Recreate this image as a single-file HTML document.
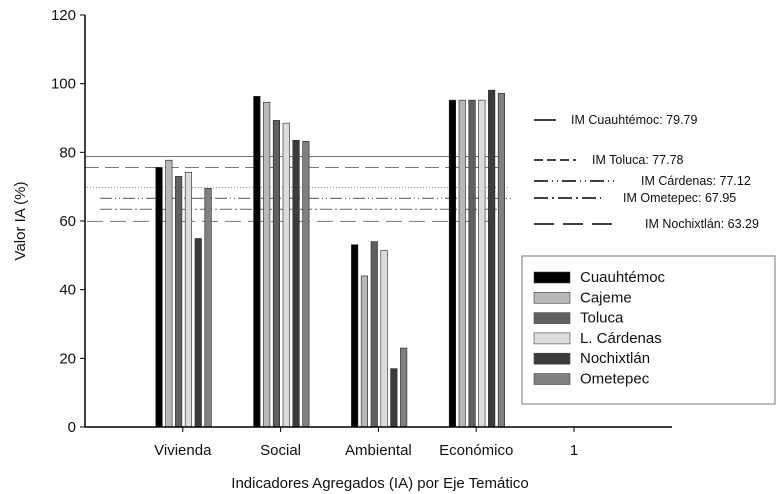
<!DOCTYPE html>
<html><head><meta charset="utf-8"><style>
html,body{margin:0;padding:0;background:#fff;}
svg{display:block;font-family:"Liberation Sans",Arial,sans-serif;}
</style></head><body>
<svg id="chart" width="779" height="494" viewBox="0 0 779 494" xmlns="http://www.w3.org/2000/svg">
<g id="refs"></g>
<g id="bars"></g>
<g id="axes"></g>
<g id="legend2"></g>
<g id="legend"></g>
</svg>
<script>
const categories = ["Vivienda","Social","Ambiental","Económico","1"];
const seriesNames = ["Cuauhtémoc","Cajeme","Toluca","L. Cárdenas","Nochixtlán","Ometepec"];
const cuauhtemoc = [75.6,96.3,53.1,95.2];
const cajeme = [77.7,94.6,44,95.2];
const toluca = [73,89.3,54,95.2];
const cardenas = [74.2,88.5,51.4,95.2];
const nochixtlan = [54.9,83.5,17,98.1];
const ometepec = [69.5,83.2,23,97.2];
const yTicks = [0,20,40,60,80,100,120];
const refValues = [78.8,75.6,69.8,66.6,63.4,59.9];
const refLabels = ["IM Cuauhtémoc: 79.79","IM Toluca: 77.78","IM Cárdenas: 77.12","IM Ometepec: 67.95","IM Nochixtlán: 63.29"];

const NS="http://www.w3.org/2000/svg";
const fills=["#000000","#b8b8b8","#606060","#dcdcdc","#3c3c3c","#808080"];
const allSeries=[cuauhtemoc,cajeme,toluca,cardenas,nochixtlan,ometepec];
const x0=85,x1=672,y0=427,yTop=15;
function y(v){return y0-(v/120)*(y0-yTop);}
function xc(i){return 85+(i+1)*97.8;}
function mk(tag,attrs,parent){const e=document.createElementNS(NS,tag);for(const k in attrs)e.setAttribute(k,attrs[k]);parent.appendChild(e);return e;}

const refs=document.getElementById('refs');
const refStyles=[
 {x1:85,x2:503,d:"",c:"#777",w:1},
 {x1:85,x2:503,d:"14,6",c:"#777",w:1},
 {x1:87,x2:510,d:"1,2",c:"#888",w:1},
 {x1:100,x2:512,d:"12,3,1,3,1,3",c:"#777",w:1.2},
 {x1:100,x2:503,d:"12,3,2,3",c:"#777",w:1.2},
 {x1:87,x2:503,d:"16,7",c:"#777",w:1}];
refValues.forEach((v,i)=>{const s=refStyles[i];
 const l=mk('line',{x1:s.x1,x2:s.x2,y1:y(v),y2:y(v),stroke:s.c,'stroke-width':s.w,'stroke-dasharray':s.d},refs);
 
 
});

const bars=document.getElementById('bars');
allSeries.forEach((arr,s)=>{arr.forEach((v,i)=>{
 const bx=xc(i)-27+s*9.8;
 const r=mk('rect',{x:bx,y:y(v),width:6.5,height:y0-y(v),fill:fills[s],stroke:"#222",'stroke-width':0.6},bars);
 
 
});});

const ax=document.getElementById('axes');
mk('line',{x1:x0,x2:x0,y1:yTop,y2:y0,stroke:"#000",'stroke-width':1.5},ax);
mk('line',{x1:x0,x2:x1,y1:y0,y2:y0,stroke:"#000",'stroke-width':1.5},ax);
yTicks.forEach(t=>{mk('line',{x1:80,x2:x0,y1:y(t),y2:y(t),stroke:"#000",'stroke-width':1},ax);
 const tx=mk('text',{x:76,y:y(t)+5,'text-anchor':'end','font-size':15,fill:"#111"},ax);tx.textContent=t;
 
 
});
categories.forEach((c,i)=>{mk('line',{x1:xc(i),x2:xc(i),y1:y0,y2:y0+5,stroke:"#000",'stroke-width':1},ax);
 const tx=mk('text',{x:xc(i),y:455,'text-anchor':'middle','font-size':15,fill:"#111"},ax);tx.textContent=c;
 
 
});
const xt=mk('text',{x:380,y:488,'text-anchor':'middle','font-size':15,fill:"#111"},ax);xt.textContent="Indicadores Agregados (IA) por Eje Temático";


const yt=mk('text',{x:0,y:0,'text-anchor':'middle','font-size':15,fill:"#111",transform:"translate(25,221) rotate(-90)"},ax);yt.textContent="Valor IA (%)";



const l2=document.getElementById('legend2');
const l2items=[{y:120,x2:556,d:"",tx:571},{y:160,x2:576,d:"9,4",tx:592},{y:181,x2:617,d:"14,4,1,4,1,4",tx:641},{y:198,x2:601,d:"14,4,2,4",tx:623},{y:224,x2:614,d:"20,9",tx:645}];
l2items.forEach((it,i)=>{mk('line',{x1:534,x2:it.x2,y1:it.y,y2:it.y,stroke:"#000",'stroke-width':1.5,'stroke-dasharray':it.d},l2);
 const t=mk('text',{x:it.tx,y:it.y+4,'font-size':12.5,fill:"#111"},l2);t.textContent=refLabels[i];
 
 
});

const lg=document.getElementById('legend');
mk('rect',{x:522,y:256,width:253,height:148,fill:"#fff",stroke:"#777",'stroke-width':1},lg);
seriesNames.forEach((n,i)=>{const cy=277+i*20.3;
 mk('rect',{x:534,y:cy-5,width:36,height:11,fill:fills[i],stroke:"#444",'stroke-width':0.6},lg);
 const t=mk('text',{x:580,y:cy+5,'font-size':15,fill:"#111"},lg);t.textContent=n;
 
 
});
</script>
</body></html>
